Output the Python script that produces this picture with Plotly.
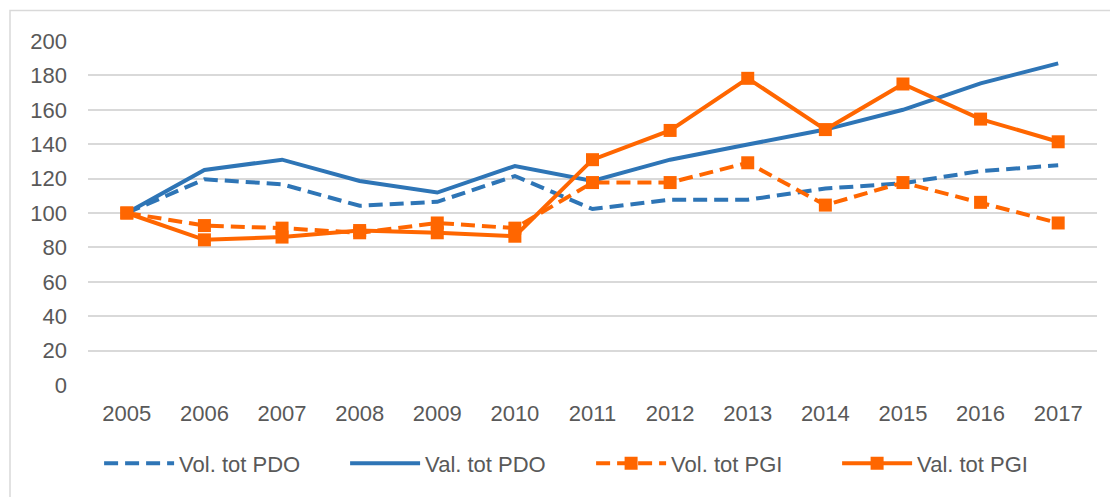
import plotly.graph_objects as go

years = ["2005", "2006", "2007", "2008", "2009", "2010", "2011", "2012", "2013", "2014", "2015", "2016", "2017"]
vol_pdo = [100, 119.6, 116.7, 104.2, 106.5, 121.5, 102.3, 107.7, 107.7, 114.2, 117.3, 124.4, 127.7]
val_pdo = [100, 125, 131, 118.6, 111.9, 127.3, 118.6, 131, 139.8, 148.5, 160, 175.4, 187]
vol_pgi = [100, 92.7, 91.2, 88.5, 94.2, 91.2, 117.7, 117.7, 129.2, 104.6, 117.7, 106.2, 94.2]
val_pgi = [100, 84.4, 86, 89.8, 88.5, 86.5, 131, 148, 178.3, 148.5, 175, 154.6, 141.4]

BLUE = "#2E75B6"
ORANGE = "#FF6600"
DASH = "14px,7px"

fig = go.Figure()
fig.add_trace(go.Scatter(x=years, y=vol_pdo, name="Vol. tot PDO", mode="lines",
                         line=dict(color=BLUE, width=4, dash=DASH)))
fig.add_trace(go.Scatter(x=years, y=val_pdo, name="Val. tot PDO", mode="lines",
                         line=dict(color=BLUE, width=4)))
fig.add_trace(go.Scatter(x=years, y=vol_pgi, name="Vol. tot PGI", mode="lines+markers",
                         line=dict(color=ORANGE, width=4, dash=DASH),
                         marker=dict(symbol="square", size=13, color=ORANGE)))
fig.add_trace(go.Scatter(x=years, y=val_pgi, name="Val. tot PGI", mode="lines+markers",
                         line=dict(color=ORANGE, width=4),
                         marker=dict(symbol="square", size=13, color=ORANGE)))

font = dict(family="Liberation Sans, Arial, sans-serif", size=22, color="#595959")

fig.update_layout(
    width=1110, height=497,
    margin=dict(l=88, r=13, t=41, b=110),
    paper_bgcolor="white", plot_bgcolor="white",
    font=font,
    showlegend=True,
    legend=dict(orientation="h", x=0.011, xanchor="left", y=-0.228, yanchor="middle",
                itemwidth=70, entrywidth=161, font=font, bgcolor="rgba(0,0,0,0)"),
    xaxis=dict(type="category", range=[-0.5, 12.5], showgrid=False, showline=False,
               zeroline=False, ticks="", ticklabelstandoff=13, tickfont=font),
    yaxis=dict(range=[0, 200], dtick=20, showgrid=True, gridcolor="#D9D9D9", gridwidth=1.5,
               zeroline=False, showline=False, ticks="", ticklabelstandoff=20, tickfont=font),
    shapes=[dict(type="rect", xref="paper", yref="paper",
                 x0=-0.0773, x1=1.5, y0=-0.6, y1=1.0886,
                 line=dict(color="#D9D9D9", width=1.5), fillcolor="rgba(0,0,0,0)", layer="below")],
)

fig.write_html("out.html", config={"displayModeBar": False},
               post_script="document.body.style.margin='0';document.body.style.overflow='hidden';")
